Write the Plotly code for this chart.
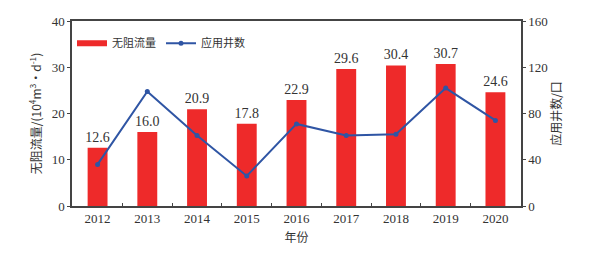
import plotly.graph_objects as go

years = ["2012", "2013", "2014", "2015", "2016", "2017", "2018", "2019", "2020"]
flow = [12.6, 16.0, 20.9, 17.8, 22.9, 29.6, 30.4, 30.7, 24.6]
wells = [36, 99, 61, 26, 71, 61, 62, 102, 74]

serif = "Liberation Serif, Noto Sans CJK SC, serif"
cjk = "Noto Sans CJK SC, Liberation Serif, serif"
txt = "#333333"
red = "#EE2A2A"
blue = "#2F55A4"

fig = go.Figure()
fig.add_trace(go.Bar(
    x=years, y=flow, name="无阻流量", showlegend=False,
    marker=dict(color=red, line=dict(width=0)),
    text=[f"{v:.1f}" for v in flow], textposition="outside",
    textfont=dict(family=serif, size=14, color=txt),
    constraintext="none",
    cliponaxis=False,
))
# legend-only entry so the bar swatch appears as a wide flat bar like the reference
fig.add_trace(go.Scatter(
    x=[None], y=[None], name="无阻流量", mode="lines",
    line=dict(color=red, width=6),
))
fig.add_trace(go.Scatter(
    x=years, y=wells, name="应用井数", yaxis="y2",
    mode="lines+markers",
    line=dict(color=blue, width=2),
    marker=dict(color=blue, size=5),
))

# page body has an 8px margin: figure is sized/offset to compensate
fig.update_layout(
    width=580, height=237,
    margin=dict(l=64, r=67, t=13, b=39),
    paper_bgcolor="white", plot_bgcolor="white",
    bargap=0.6,
    showlegend=True,
    legend=dict(orientation="h", x=0.0, y=0.88, xanchor="left", yanchor="middle",
                font=dict(family=cjk, size=11, color=txt),
                bgcolor="rgba(0,0,0,0)", tracegroupgap=0, itemwidth=30),
    xaxis=dict(
        title=dict(text="年份", font=dict(family=cjk, size=12, color=txt), standoff=10),
        tickfont=dict(family=serif, size=13, color=txt),
        showline=True, linecolor="#444", linewidth=1.5, mirror=True,
        ticks="inside", ticklen=3, tickcolor="#444", tickson="boundaries",
        showgrid=False, automargin=False,
    ),
    yaxis=dict(
        title=dict(text="无阻流量/(10<sup>4</sup>m<sup>3</sup>·d<sup>-1</sup>)",
                   font=dict(family=cjk, size=12, color=txt), standoff=7),
        range=[0, 40], dtick=10,
        tickfont=dict(family=serif, size=13, color=txt),
        showline=True, linecolor="#444", linewidth=1.5,
        ticks="outside", ticklen=3, tickcolor="#444",
        showgrid=False, zeroline=False, automargin=False,
    ),
    yaxis2=dict(
        title=dict(text="应用井数/口", font=dict(family=cjk, size=12, color=txt), standoff=6),
        overlaying="y", side="right",
        range=[0, 160], dtick=40,
        tickfont=dict(family=serif, size=13, color=txt),
        showline=True, linecolor="#444", linewidth=1.5,
        ticks="outside", ticklen=3, tickcolor="#444",
        showgrid=False, zeroline=False, automargin=False,
    ),
)

fig.write_html("out.html")
